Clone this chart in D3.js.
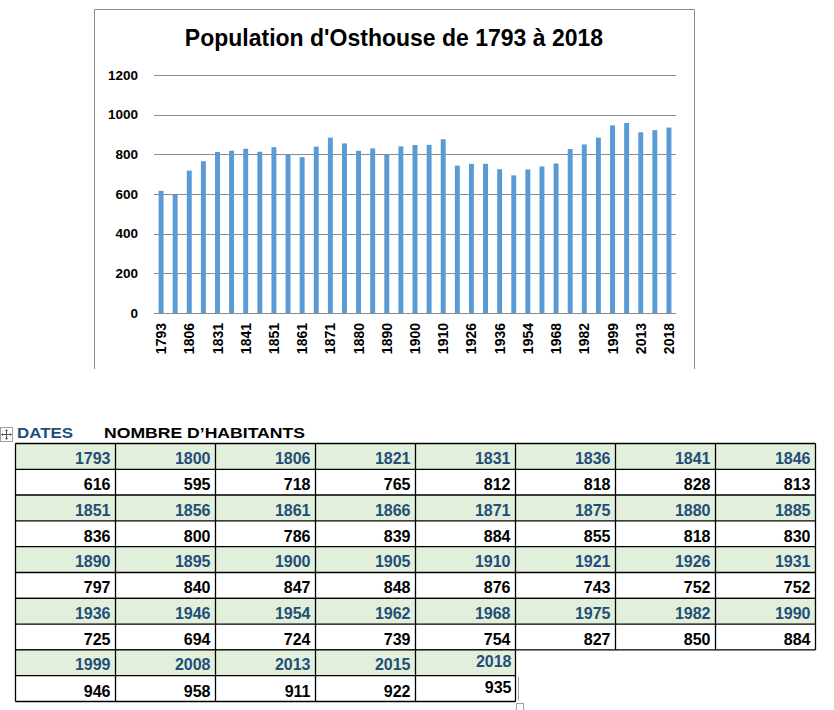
<!DOCTYPE html>
<html><head><meta charset="utf-8">
<script src="https://cdn.jsdelivr.net/npm/d3@7"></script>
<style>
html,body{margin:0;padding:0;background:#fff;}
svg{display:block;}
text{font-family:"Liberation Sans",Arial,sans-serif;}
</style></head>
<body>
<svg id="c" width="834" height="710"></svg>
<script>
const title = "Population d'Osthouse de 1793 à 2018";
const years = ["1793","1800","1806","1821","1831","1836","1841","1846","1851","1856","1861","1866","1871","1875","1880","1885","1890","1895","1900","1905","1910","1921","1926","1931","1936","1946","1954","1962","1968","1975","1982","1990","1999","2008","2013","2015","2018"];
const population = [616,595,718,765,812,818,828,813,836,800,786,839,884,855,818,830,797,840,847,848,876,743,752,752,725,694,724,739,754,827,850,884,946,958,911,922,935];
const yTicks = [0,200,400,600,800,1000,1200];
const tableHeadDates = "DATES";
const tableHeadPop = "NOMBRE D\u2019HABITANTS";

const svg = d3.select("#c");

// chart frame (cropped at bottom)
const frame = {l:94.5, r:694.5, t:9.5, b:369};
svg.append("path").attr("d",`M${frame.l},${frame.b}V${frame.t}H${frame.r}V${frame.b}`)
  .attr("fill","none").attr("stroke","#8c8c8c").attr("stroke-width",1);

svg.append("text").attr("x",394).attr("y",46).attr("text-anchor","middle")
  .attr("font-size",23).attr("font-weight","bold").attr("fill","#000").text(title);

const plot = {l:154, r:676, t:75, b:313};
const y = d3.scaleLinear().domain([0,1200]).range([plot.b, plot.t]);
const x = d3.scaleBand().domain(years).range([plot.l, plot.r]).paddingInner(0.65).paddingOuter(0.325);

// gridlines
svg.append("g").selectAll("line").data(yTicks).join("line")
  .attr("x1",plot.l).attr("x2",plot.r)
  .attr("y1",d=>Math.round(y(d))+0.5).attr("y2",d=>Math.round(y(d))+0.5)
  .attr("stroke","#8c8c8c").attr("stroke-width",1);

// y axis labels
const yAxis = d3.axisLeft(y).tickValues(yTicks).tickFormat(d3.format("d")).tickSize(0).tickPadding(0);
const yg = svg.append("g").attr("transform",`translate(138,0)`).call(yAxis);
yg.select(".domain").remove();
yg.selectAll("text").attr("font-size",13.5).attr("font-weight","bold").attr("fill","#000")
  .attr("font-family","'Liberation Sans',Arial,sans-serif");

// bars
svg.append("g").selectAll("rect").data(years).join("rect")
  .attr("x",d=>x(d)).attr("width",x.bandwidth())
  .attr("y",(d,i)=>y(population[i])).attr("height",(d,i)=>y(0)-y(population[i]))
  .attr("fill","#5b9bd5");

// x axis labels (every other category)
const xAxis = d3.axisBottom(x).tickValues(years.filter((d,i)=>i%2===0)).tickSize(0).tickPadding(0);
const xg = svg.append("g").attr("transform",`translate(0,${plot.b})`).call(xAxis);
xg.select(".domain").remove();
xg.selectAll("text").attr("font-size",14).attr("font-weight","bold").attr("fill","#000")
  .attr("font-family","'Liberation Sans',Arial,sans-serif")
  .attr("text-anchor","end").attr("transform","rotate(-90)")
  .attr("x",-10).attr("y",0).attr("dy","0.36em");

// ---- table ----
// move handle icon
const ic = svg.append("g").attr("transform","translate(0.5,427.5)");
ic.append("rect").attr("width",12).attr("height",14).attr("fill","#fff").attr("stroke","#a0a0a0");
ic.append("path").attr("d","M6,2.5V11.5M1.5,7H10.5").attr("stroke","#555").attr("stroke-width",1);
ic.append("path").attr("d","M6,1.5L4.5,3.5H7.5ZM6,12.5L4.5,10.5H7.5ZM0.5,7L2.5,5.5V8.5ZM11.5,7L9.5,5.5V8.5Z").attr("fill","#555");

svg.append("text").attr("x",17).attr("y",438).attr("font-family","'DejaVu Sans',sans-serif")
  .attr("font-weight","bold").attr("font-size",15).attr("fill","#1f4e79")
  .attr("textLength",56).attr("lengthAdjust","spacingAndGlyphs").text(tableHeadDates);
svg.append("text").attr("x",104).attr("y",438).attr("font-family","'DejaVu Sans',sans-serif")
  .attr("font-weight","bold").attr("font-size",15).attr("fill","#000")
  .attr("textLength",201).attr("lengthAdjust","spacingAndGlyphs").text(tableHeadPop);

const colW = 100, rowH = 25.8, tx0 = 15.5, ty0 = 443.5, perRow = 8;
const groups = d3.range(Math.ceil(years.length/perRow)).map(r=>d3.range(r*perRow, Math.min(years.length,(r+1)*perRow)));
const tg = svg.append("g");
groups.forEach((idxs, r)=>{
  const yh = ty0 + r*2*rowH, yv = yh + rowH;
  idxs.forEach((i,c)=>{
    const xc = tx0 + c*colW;
    const last = (i === years.length-1 && idxs.length < perRow);
    tg.append("rect").attr("x",xc).attr("y",yh).attr("width",colW).attr("height",rowH).attr("fill","#e2efda");
    tg.append("rect").attr("x",xc).attr("y",yv).attr("width",colW).attr("height",rowH).attr("fill","#fff");
    tg.append("text").attr("x",xc+colW-(last?4:5)).attr("y",yh+(last?17.5:20.5)).attr("text-anchor","end")
      .attr("font-size",16).attr("font-weight","bold").attr("fill","#1f4e79").text(years[i]);
    tg.append("text").attr("x",xc+colW-(last?4:5)).attr("y",yv+(last?17.5:20.8)).attr("text-anchor","end")
      .attr("font-size",16).attr("font-weight","bold").attr("fill","#000").text(population[i]);
  });
  // borders
  const w = idxs.length*colW;
  [yh, yv, yv+rowH].forEach(yy=>{
    tg.append("line").attr("x1",tx0).attr("x2",tx0+w).attr("y1",yy).attr("y2",yy).attr("stroke","#000").attr("stroke-width",1.3);
  });
  d3.range(idxs.length+1).forEach(c=>{
    tg.append("line").attr("x1",tx0+c*colW).attr("x2",tx0+c*colW).attr("y1",yh).attr("y2",yv+rowH).attr("stroke","#000").attr("stroke-width",1.3);
  });
});
// row-end marker of the unfinished last row
const lastRowTop = ty0 + (groups.length-1)*2*rowH;
svg.append("line").attr("x1",518.5).attr("x2",518.5).attr("y1",lastRowTop+rowH+1).attr("y2",lastRowTop+2*rowH-1).attr("stroke","#a0a0a0");
svg.append("rect").attr("x",516.5).attr("y",703.5).attr("width",7).attr("height",7).attr("fill","#fff").attr("stroke","#a0a0a0");
</script>
</body></html>
